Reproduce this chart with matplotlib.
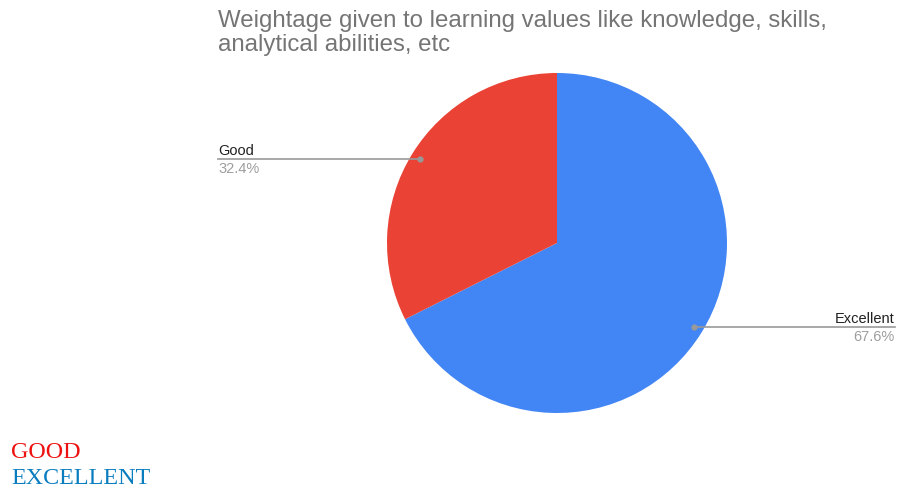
import numpy as np
import matplotlib

matplotlib.use("Agg")
import matplotlib.pyplot as plt

title = "Weightage given to learning values like knowledge, skills,\nanalytical abilities, etc"
labels = ["Excellent", "Good"]
shares = [67.6, 32.4]
colors = ["#4285F4", "#EA4335"]
legend_text = ["GOOD", "EXCELLENT"]
legend_colors = ["#EE1111", "#0A7DBE"]

W, H = 899, 489
fig = plt.figure(figsize=(W / 100, H / 100), dpi=100)
ax = fig.add_axes([0, 0, 1, 1])

cx, cy, R = 557, H - 244, 170
ax.pie(shares, colors=colors, startangle=90, counterclock=False,
       center=(cx, cy), radius=R, wedgeprops=dict(linewidth=0))
ax.set_xlim(0, W)
ax.set_ylim(0, H)
ax.axis("off")

fig.text(218 / W, 1 - 10 / H, title, ha="left", va="top", fontsize=17.3,
         color="#757575", family="Liberation Sans", linespacing=1.12)

# leader lines and labels
angle = 90.0
for lab, val in zip(labels, shares):
    sweep = val / sum(shares) * 360
    mid = np.deg2rad(angle - sweep / 2)
    angle -= sweep
    px, py = cx + 0.945 * R * np.cos(mid), cy + 0.945 * R * np.sin(mid)
    if np.cos(mid) > 0:
        x_end, ha = 895, "right"
    else:
        x_end, ha = 218, "left"
    ax.plot([px, x_end], [py, py], color="#999999", lw=1.2)
    ax.plot(px, py, "o", color="#999999", ms=3.5)
    ax.text(x_end, py + 2, lab, ha=ha, va="bottom", fontsize=10.5,
            color="#222222", family="Liberation Sans")
    ax.text(x_end, py - 2, f"{val}%", ha=ha, va="top", fontsize=10.5,
            color="#9E9E9E", family="Liberation Sans")

for i, (t, c) in enumerate(zip(legend_text, legend_colors)):
    fig.text(11 / W, 1 - (458 + 26 * i) / H, t, ha="left", va="baseline",
             fontsize=17.3, color=c, family="Liberation Serif")

fig.savefig("out.png", dpi=100)
